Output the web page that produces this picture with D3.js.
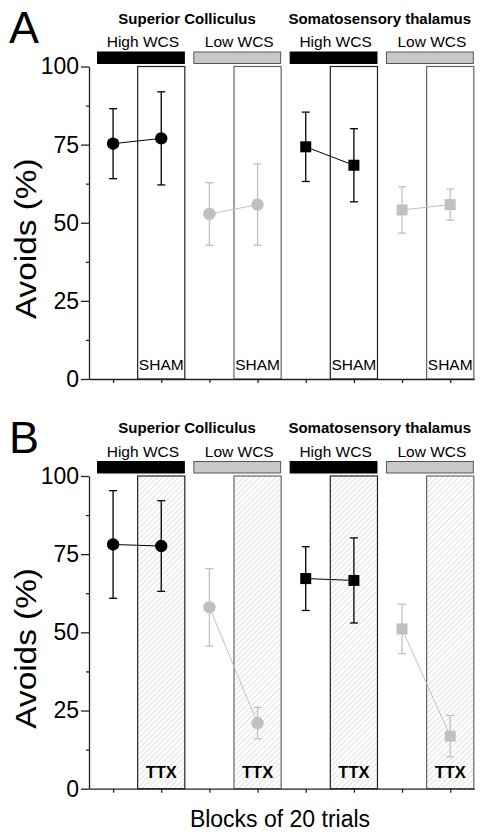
<!DOCTYPE html>
<html><head><meta charset="utf-8">
<script src="https://cdn.jsdelivr.net/npm/d3@7"></script>
<style>body{margin:0;background:#fff}svg{display:block;font-family:"Liberation Sans",Arial,sans-serif}</style>
</head><body><svg id="c" width="484" height="837"></svg>
<script>
// ---- data ----
const regions = ["Superior Colliculus", "Somatosensory thalamus"];
const groups = ["High WCS", "Low WCS"];
const blocks = [0, 1, 2, 3, 4, 5, 6, 7];
const yTicks = [0, 25, 50, 75, 100];
const yMinor = [12.5, 37.5, 62.5, 87.5];
const panelLetters = ["A", "B"];
const treatments = ["SHAM", "TTX"];
// panel A (sham): [pre, post] means and error
const shamSCHigh = [75.3, 77.0], shamSCHighErr = [11.2, 14.9];
const shamSCLow = [52.8, 55.8], shamSCLowErr = [10.0, 13.0];
const shamSTHigh = [74.3, 68.4], shamSTHighErr = [11.1, 11.7];
const shamSTLow = [54.1, 55.8], shamSTLowErr = [7.4, 5.0];
// panel B (TTX)
const ttxSCHigh = [78.1, 77.6], ttxSCHighErr = [17.2, 14.5];
const ttxSCLow = [58.0, 21.0], ttxSCLowErr = [12.4, 5.0];
const ttxSTHigh = [67.2, 66.6], ttxSTHighErr = [10.2, 13.6];
const ttxSTLow = [51.1, 16.8], ttxSTLowErr = [7.9, 6.6];

const panels = [
  {letter: panelLetters[0], treat: treatments[0], top: 66.5, bottom: 379,
   series: [
     {vals: shamSCHigh, err: shamSCHighErr, start: 0, shape: "circle", col: "#000"},
     {vals: shamSCLow, err: shamSCLowErr, start: 2, shape: "circle", col: "#c0c0c0"},
     {vals: shamSTHigh, err: shamSTHighErr, start: 4, shape: "square", col: "#000"},
     {vals: shamSTLow, err: shamSTLowErr, start: 6, shape: "square", col: "#c0c0c0"}]},
  {letter: panelLetters[1], treat: treatments[1], top: 476, bottom: 788.7,
   series: [
     {vals: ttxSCHigh, err: ttxSCHighErr, start: 0, shape: "circle", col: "#000"},
     {vals: ttxSCLow, err: ttxSCLowErr, start: 2, shape: "circle", col: "#c0c0c0"},
     {vals: ttxSTHigh, err: ttxSTHighErr, start: 4, shape: "square", col: "#000"},
     {vals: ttxSTLow, err: ttxSTLowErr, start: 6, shape: "square", col: "#c0c0c0"}]}
];

const svg = d3.select("#c");
const defs = svg.append("defs");
const pat = defs.append("pattern").attr("id", "hatch").attr("patternUnits", "userSpaceOnUse")
  .attr("width", 3.8).attr("height", 3.8).attr("patternTransform", "rotate(45)");
pat.append("line").attr("x1", 0).attr("y1", 0).attr("x2", 0).attr("y2", 3.8)
  .attr("stroke", "#b4b4b4").attr("stroke-width", 0.8);

const x = d3.scalePoint().domain(blocks).range([89, 474.3]).padding(0.5);
const step = x.step();

panels.forEach((p, pi) => {
  const y = d3.scaleLinear().domain([0, 100]).range([p.bottom, p.top]);
  const g = svg.append("g");

  // treatment rects at post positions
  [1, 3, 5, 7].forEach((b, k) => {
    const high = (k % 2 === 0);
    g.append("rect")
      .attr("x", x(b) - step / 2 + 0.5).attr("width", step - 1)
      .attr("y", y(100)).attr("height", y(0) - y(100))
      .attr("fill", pi === 1 ? "url(#hatch)" : "none")
      .attr("stroke", high ? "#222" : "#666").attr("stroke-width", 1.2);
    g.append("text").attr("x", x(b)).attr("y", y(0) - (pi === 1 ? 11 : 9))
      .attr("text-anchor", "middle")
      .attr("font-size", pi === 1 ? 16.5 : 15.5).attr("font-weight", pi === 1 ? "bold" : "normal")
      .text(p.treat);
  });

  // header bars and labels
  [0, 2, 4, 6].forEach((b, k) => {
    const high = (k % 2 === 0);
    const x0 = x(b) - step / 2 + 8.5, x1 = x(b + 1) + step / 2 - 1;
    g.append("rect").attr("x", x0).attr("width", x1 - x0)
      .attr("y", y(100) - 14.5).attr("height", 11.5)
      .attr("fill", high ? "#000" : "#c8c8c8").attr("stroke", high ? "#000" : "#555").attr("stroke-width", 1);
    g.append("text").attr("x", (x0 + x1) / 2 + 2).attr("y", y(100) - 19.5)
      .attr("text-anchor", "middle").attr("font-size", 15.5).text(groups[k % 2]);
  });
  regions.forEach((r, k) => {
    const x0 = x(k * 4) - step / 2 + 8.5, x1 = x(k * 4 + 3) + step / 2 - 1;
    g.append("text").attr("x", (x0 + x1) / 2 - 2).attr("y", y(100) - 43)
      .attr("text-anchor", "middle").attr("font-size", 15).attr("font-weight", "bold").text(r);
  });

  // axes
  const ya = g.append("g").attr("transform", "translate(89,0)")
    .call(d3.axisLeft(y).tickValues(yTicks).tickSize(8).tickSizeOuter(0).tickPadding(2));
  ya.selectAll("text").attr("font-size", 23).attr("fill", "#000").attr("font-family", "Liberation Sans, Arial, sans-serif");
  const ym = g.append("g").attr("transform", "translate(89,0)")
    .call(d3.axisLeft(y).tickValues(yMinor).tickSize(3).tickFormat(""));
  ym.select(".domain").remove();
  const xa = g.append("g").attr("transform", `translate(0,${y(0)})`)
    .call(d3.axisBottom(x).tickSize(4).tickSizeOuter(0).tickFormat(""));
  g.selectAll(".domain, .tick line").attr("stroke", "#222").attr("stroke-width", 1.3);

  // series
  p.series.forEach(s => {
    const pts = s.vals.map((v, i) => ({bx: x(s.start + i), v, e: s.err[i]}));
    g.append("path").attr("d", d3.line().x(d => d.bx).y(d => y(d.v))(pts))
      .attr("fill", "none").attr("stroke", s.col).attr("stroke-width", 1);
    pts.forEach(d => {
      g.append("line").attr("x1", d.bx).attr("x2", d.bx).attr("y1", y(d.v - d.e)).attr("y2", y(d.v + d.e))
        .attr("stroke", s.col).attr("stroke-width", 1.3);
      [d.v - d.e, d.v + d.e].forEach(t => g.append("line").attr("x1", d.bx - 4).attr("x2", d.bx + 4)
        .attr("y1", y(t)).attr("y2", y(t)).attr("stroke", s.col).attr("stroke-width", 1.3));
      if (s.shape === "circle") {
        g.append("circle").attr("cx", d.bx).attr("cy", y(d.v)).attr("r", 6.2).attr("fill", s.col);
      } else {
        g.append("rect").attr("x", d.bx - 5.5).attr("y", y(d.v) - 5.5).attr("width", 11).attr("height", 11).attr("fill", s.col);
      }
    });
  });

  // panel letter and y label
  g.append("text").attr("x", 9).attr("y", y(100) - 23.5 - (pi === 1 ? 0 : 0.5)).attr("font-size", 45).text(p.letter);
  const cy = (y(0) + y(100)) / 2 + 16;
  g.append("text").attr("transform", `translate(35.5,${cy}) rotate(-90) scale(1.15,1)`)
    .attr("text-anchor", "middle").attr("font-size", 29).text("Avoids (%)");
});

svg.append("text").attr("x", 280).attr("y", 827).attr("text-anchor", "middle")
  .attr("font-size", 23).text("Blocks of 20 trials");
</script></body></html>
